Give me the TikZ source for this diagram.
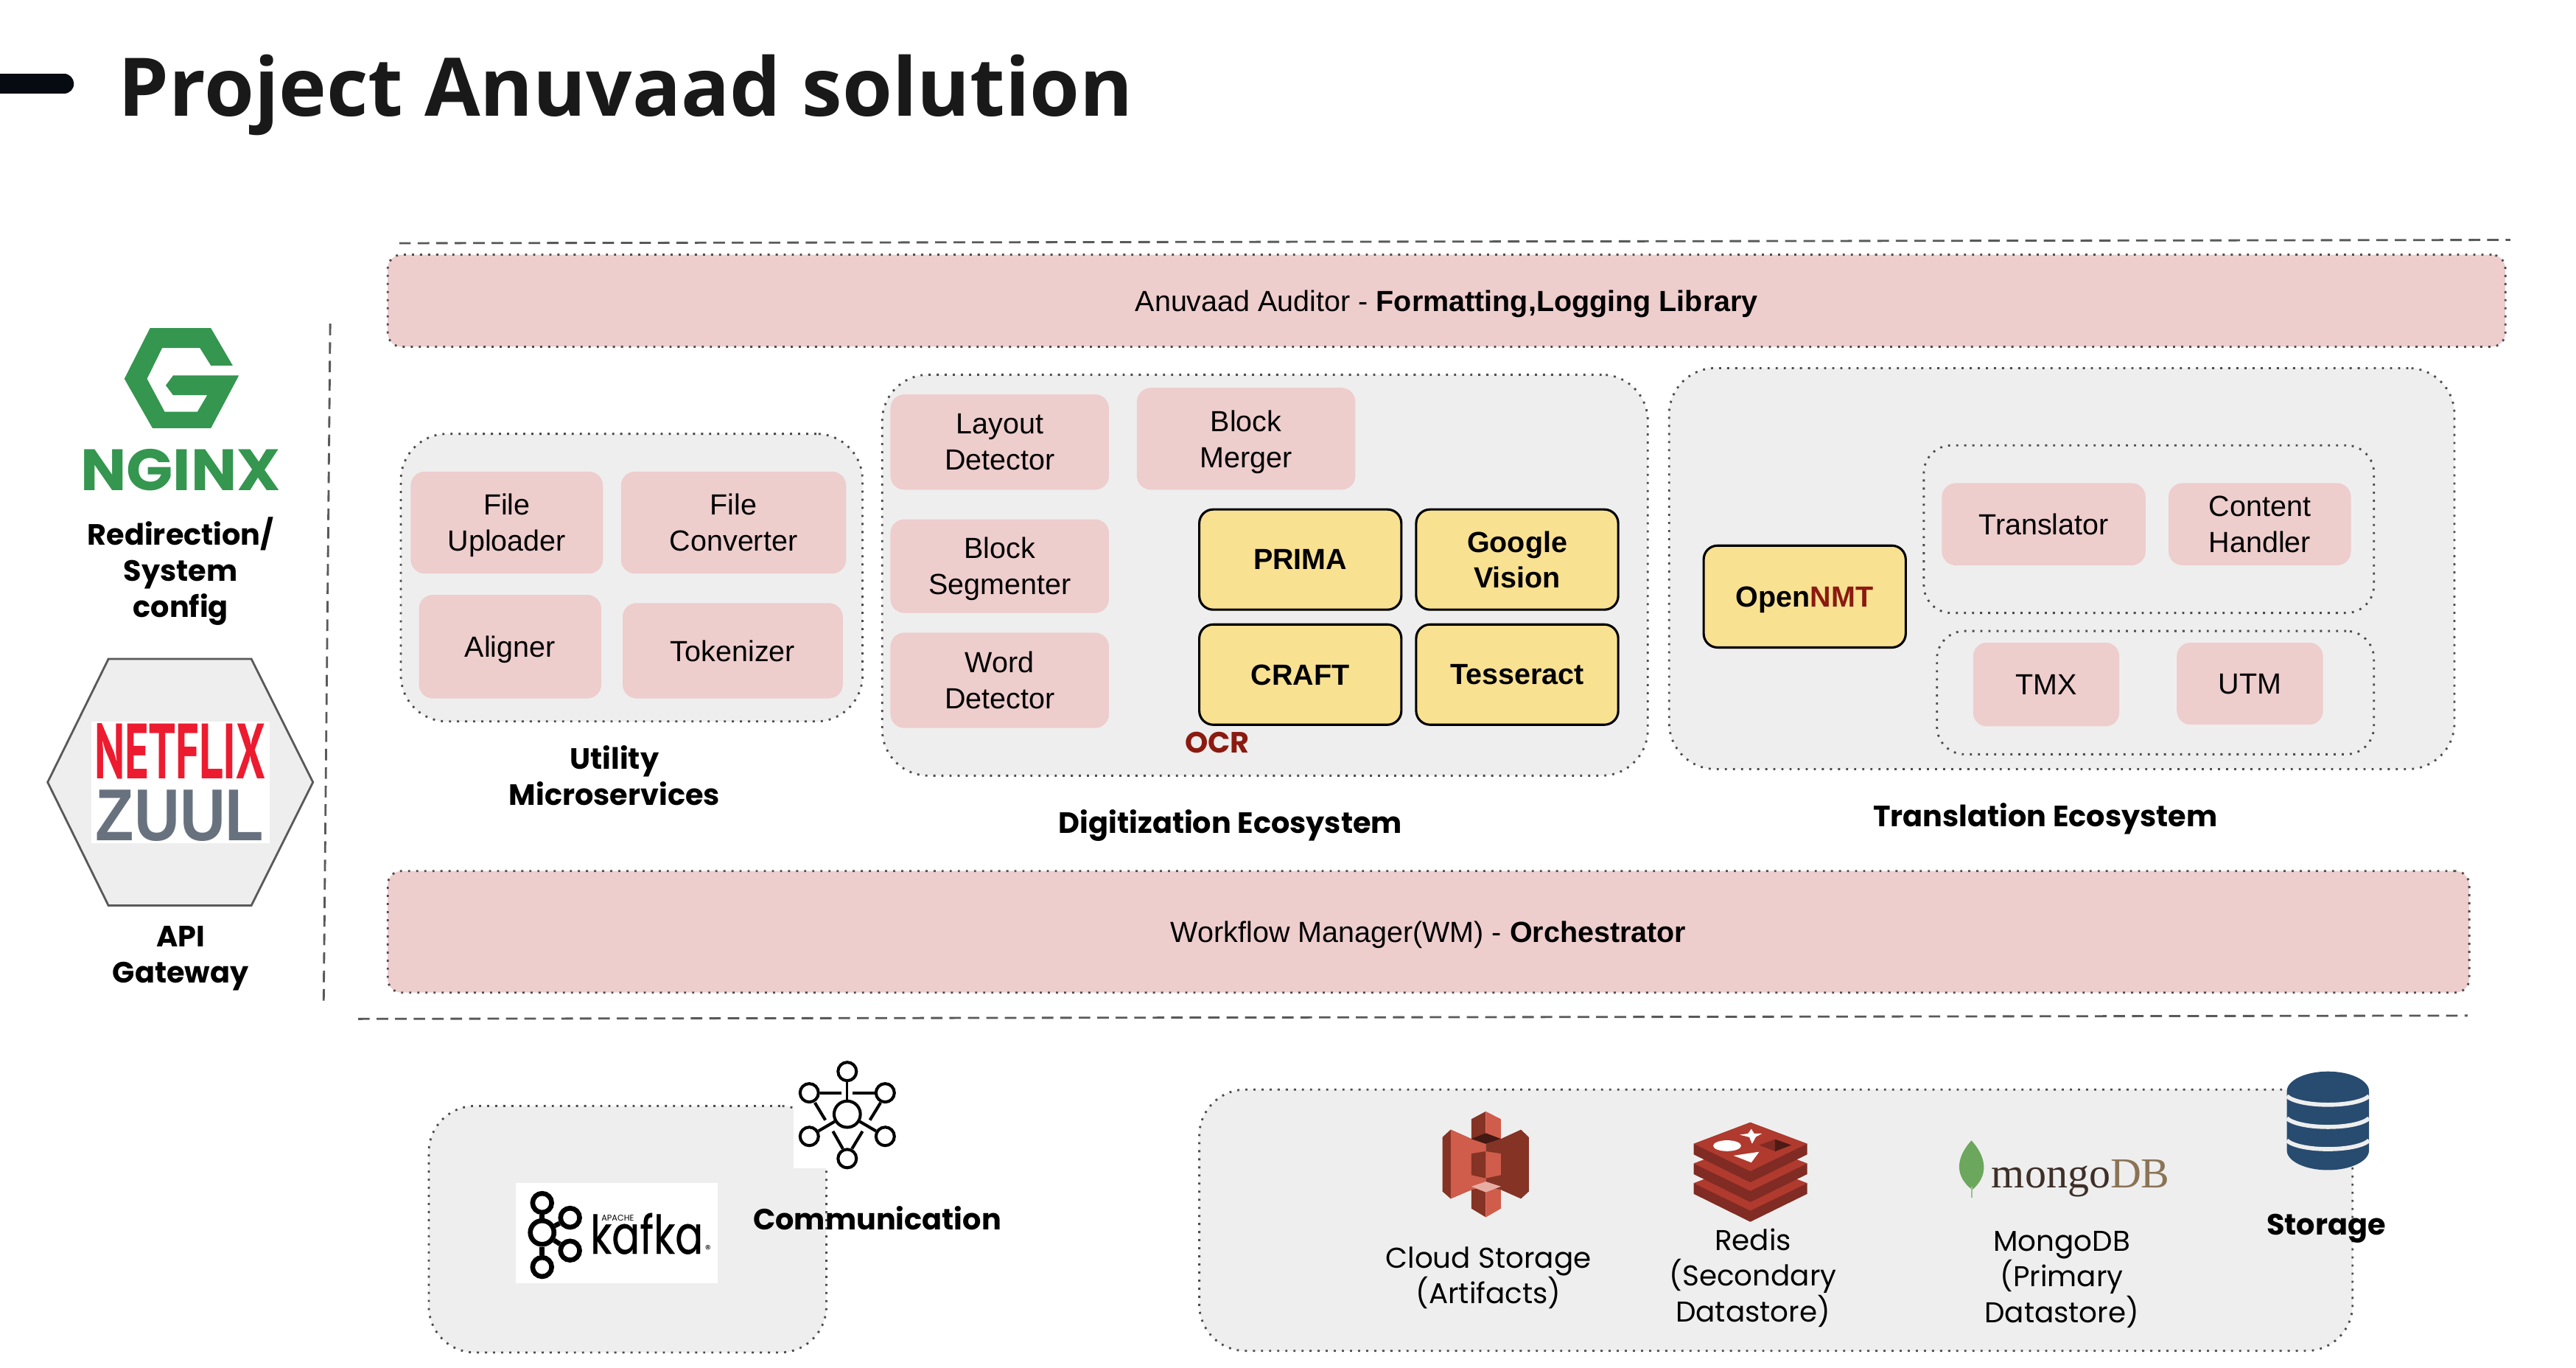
\documentclass[tikz,border=0pt]{standalone}
\usepackage{fontspec}
\setmainfont{Liberation Sans}
\newfontfamily\labelfamily{Poppins}
\newfontfamily\kafkafamily[FakeBold=0.5]{Poppins}
\newfontfamily\titlefamily{Open Sans}
\newfontfamily\mongofamily{Liberation Serif}
\newfontfamily\netflixfamily{PT Sans}
\usetikzlibrary{calc,shapes.geometric}
\definecolor{pinkfill}{HTML}{EECDCD}
\definecolor{greyfill}{HTML}{EEEEEE}
\definecolor{yellowfill}{HTML}{F9E192}
\definecolor{ocrred}{HTML}{8B1A10}
\definecolor{navy}{HTML}{284B70}
\definecolor{nginxgreen}{HTML}{34964F}
\definecolor{netflixred}{HTML}{ED1B2F}
\definecolor{zuulgrey}{HTML}{68727F}
\definecolor{awslight}{HTML}{D05C4B}
\definecolor{awsdark}{HTML}{843325}
\definecolor{redislight}{HTML}{B03A2E}
\definecolor{redisdark}{HTML}{802B23}
\definecolor{mongodark}{HTML}{3E2F28}
\definecolor{mongotan}{HTML}{8B7355}
\definecolor{leafgreen}{HTML}{6BA75C}
\def\unitbox[#1](#2)(#3,#4)(#5,#6)#7{\node[#1, minimum width={(#5-#3)*0.25mm}, minimum height={(#6-#4)*0.25mm}] (#2) at ({(#3+#5)/2},{(#4+#6)/2}) {#7};}
\tikzset{
	bodytext/.style={align=center, inner sep=0, text depth=0pt, font=\fontsize{12.6}{15.6}\selectfont},
	lighttext/.style={align=center, inner sep=0, text depth=0pt, font=\labelfamily\fontsize{12.4}{15.6}\selectfont},
	labeltext/.style={align=center, inner sep=0, text depth=0pt, font=\labelfamily\bfseries\fontsize{12.7}{15.6}\selectfont},
	dotline/.style={draw=black!70, line width=0.9pt, dash pattern=on 0.9pt off 2.6pt},
	dashline/.style={draw=black!65, line width=0.9pt, dash pattern=on 5pt off 3pt},
	pinkbox/.style={bodytext, fill=pinkfill, rounded corners=6pt},
	pinkband/.style={bodytext, fill=pinkfill, dotline, rounded corners=6pt},
	greybox/.style={fill=greyfill, dotline, rounded corners=20pt},
	yellowbox/.style={bodytext, fill=yellowfill, draw=black, line width=1pt, rounded corners=6pt, font=\bfseries\fontsize{12.6}{15.6}\selectfont},
	ring/.style={circle, draw=black, inner sep=0, fill=white},
}
\begin{document}
\begin{tikzpicture}[x=0.25mm, y=-0.25mm]
		\useasboundingbox (0, 0) rectangle (1568, 832);
		%%%%% TITLE %%%%%
		\draw[line width=8.5pt, line cap=round, color=black!85!navy] (-10, 51) -- (39, 51);
		\node[inner sep=0, font=\titlefamily\bfseries\fontsize{35}{40}\selectfont, color=black!90] (title) at (381, 58) {Project Anuvaad solution};
		
		%%%%% LEFT COLUMN %%%%%
		\draw[fill=nginxgreen, draw=none] (75.7, 230.5) -- (91.3, 199.7) -- (128.4, 199.7) -- (141.7, 222.5) -- (128.4, 222.5) -- (121.7, 211.8) -- (98.7, 211.8) -- (89.5, 230.5) -- (100.2, 250.5) -- (120.2, 250.5) -- (126.1, 240.5) -- (105.4, 240.5) -- (100.9, 234.5) -- (105.4, 228.5) -- (145.4, 228.5) -- (128.4, 260.5) -- (92.8, 260.5) -- cycle;
		\node[inner sep=0, color=nginxgreen] (nginx) at (110, 286) {\resizebox{30.5mm}{6.3mm}{\labelfamily\bfseries NGINX}};
		\node[labeltext] (redirection) at (110, 345) {Redirection/\\System\\config};
		
		\draw[fill=greyfill, draw=black!65, line width=0.9pt] (29, 476) -- (66, 401) -- (153, 401) -- (190.5, 476) -- (153, 551) -- (66, 551) -- cycle;
		\draw[fill=white, draw=none] (55.7, 439) rectangle (164, 513);
		\node[inner sep=0, color=netflixred] (netflix) at (109.5, 457) {\resizebox{26mm}{8.4mm}{\netflixfamily\bfseries NETFLIX}};
		\node[inner sep=0, color=zuulgrey] (zuul) at (109.5, 496.5) {\resizebox{25.6mm}{7.7mm}{\bfseries ZUUL}};
		\node[labeltext] (gateway) at (110, 581) {API\\Gateway};
		
		\draw[dashline] (201, 197) -- (197, 612);
		
		%%%%% TOP AND MIDDLE BANDS %%%%%
		\draw[dashline] (243, 148) -- (1528, 146);
		\unitbox[pinkband](auditor)(236,155)(1525,211){Anuvaad Auditor - \textbf{Formatting,Logging Library}}
		\unitbox[pinkband](workflow)(236,530)(1503,604){Workflow Manager(WM) - \textbf{Orchestrator}}
		\draw[dashline] (218, 620) -- (1502, 618);
		
		%%%%% UTILITY %%%%%
		\unitbox[greybox](utility)(244,264)(525,439){}
		\unitbox[pinkbox](uploader)(250,287)(367,349){File\\Uploader}
		\unitbox[pinkbox](converter)(378,287)(515,349){File\\Converter}
		\unitbox[pinkbox](aligner)(255,362)(366,425){Aligner}
		\unitbox[pinkbox](tokenizer)(379,367)(513,425){Tokenizer}
		\node[labeltext] (utilitylabel) at (374, 472) {Utility\\Microservices};
		
		%%%%% DIGITIZATION %%%%%
		\unitbox[greybox](digitization)(537,228)(1003,472){}
		\unitbox[pinkbox](layout)(542,240)(675,298){Layout\\Detector}
		\unitbox[pinkbox](merger)(692,236)(825,298){Block\\Merger}
		\unitbox[pinkbox](segmenter)(542,316)(675,373){Block\\Segmenter}
		\unitbox[pinkbox](word)(542,385)(675,443){Word\\Detector}
		\unitbox[yellowbox](prima)(730,310)(853,371){PRIMA}
		\unitbox[yellowbox](google)(862,310)(985,371){Google\\Vision}
		\unitbox[yellowbox](craft)(730,380)(853,441){CRAFT}
		\unitbox[yellowbox](tesseract)(862,380)(985,441){Tesseract}
		\node[labeltext, color=ocrred] (ocr) at (741, 452) {OCR};
		\node[labeltext] (digitlabel) at (749, 500) {Digitization Ecosystem};
		
		%%%%% TRANSLATION %%%%%
		\unitbox[greybox](translation)(1016,224)(1494,468){}
		\unitbox[yellowbox](opennmt)(1037,332)(1160,394){Open\textcolor{ocrred}{NMT}}
		\unitbox[greybox, rounded corners=12pt](translatorgroup)(1171,271)(1445,373){}
		\unitbox[pinkbox](translator)(1182,294)(1306,344){Translator}
		\unitbox[pinkbox](handler)(1320,294)(1431,344){Content\\Handler}
		\unitbox[greybox, rounded corners=12pt](memorygroup)(1179,384)(1445,459){}
		\unitbox[pinkbox](tmx)(1201,391)(1290,442){TMX}
		\unitbox[pinkbox](utm)(1325,391)(1414,441){UTM}
		\node[labeltext] (translabel) at (1245, 496) {Translation Ecosystem};
		
		%%%%% KAFKA %%%%%
		\unitbox[greybox](commbox)(261,673)(503,823){}
		\draw[fill=white, draw=none] (314, 720) rectangle (437, 781);
		\node[ring, minimum size=2.9mm, line width=2.1pt] (kafkatop) at (330, 732) {};
		\node[ring, minimum size=3.6mm, line width=2.1pt] (kafkamid) at (330, 750) {};
		\node[ring, minimum size=2.9mm, line width=2.1pt] (kafkabottom) at (330, 771) {};
		\node[ring, minimum size=2.9mm, line width=2.1pt] (kafkaup) at (347, 741) {};
		\node[ring, minimum size=2.9mm, line width=2.1pt] (kafkadown) at (347, 761) {};
		\draw[line width=2.1pt] (kafkatop) -- (kafkamid);
		\draw[line width=2.1pt] (kafkamid) -- (kafkabottom);
		\draw[line width=2.1pt] (kafkamid) -- (kafkaup);
		\draw[line width=2.1pt] (kafkamid) -- (kafkadown);
		\node[inner sep=0, anchor=south west] (kafka) at (359, 763.5) {\resizebox{17.2mm}{6.2mm}{\kafkafamily kafka}};
		\node[inner sep=0, font=\labelfamily\fontsize{3.6}{4}\selectfont] (apache) at (376, 741) {APACHE};
		\node[inner sep=0, font=\labelfamily\fontsize{5}{5}\selectfont] (registered) at (431, 760) {®};
		
		\draw[fill=white, draw=none] (483, 645) rectangle (545, 711);
		\node[ring, minimum size=4mm, line width=1.3pt] (netcentre) at (515.7, 678) {};
		\node[ring, minimum size=2.8mm, line width=1.3pt] (nettop) at (515.7, 652) {};
		\node[ring, minimum size=2.8mm, line width=1.3pt] (netlup) at (492.6, 665) {};
		\node[ring, minimum size=2.8mm, line width=1.3pt] (netrup) at (538.8, 665) {};
		\node[ring, minimum size=2.8mm, line width=1.3pt] (netldown) at (492.6, 691.5) {};
		\node[ring, minimum size=2.8mm, line width=1.3pt] (netrdown) at (538.8, 691.5) {};
		\node[ring, minimum size=2.8mm, line width=1.3pt] (netbottom) at (515.7, 705) {};
		\draw[line width=1pt] (nettop) -- (netcentre);
		\draw[line width=1.3pt] (netcentre) -- (netldown);
		\draw[line width=1.3pt] (netcentre) -- (netrdown);
		\draw[line width=1.3pt] (499, 665) -- (512, 665);
		\draw[line width=1.3pt] (519, 665) -- (533, 665);
		\draw[line width=1.3pt] (496, 671) -- (502.4, 681.6);
		\draw[line width=1.3pt] (536, 671) -- (529.5, 681.6);
		\draw[line width=1.3pt] (507, 688.4) -- (513, 699);
		\draw[line width=1.3pt] (525, 688.4) -- (518.6, 699);
		\node[labeltext] (commlabel) at (534, 741) {Communication};
		
		%%%%% STORAGE %%%%%
		\unitbox[greybox](storagebox)(730,663)(1432,822){}
		
		% cloud storage icon
		\draw[fill=awsdark, draw=none] (878, 692) -- (883, 687.4) -- (895.6, 693) -- (895.6, 724) -- (883, 729.4) -- (878, 725) -- cycle;
		\draw[fill=awslight, draw=none] (883, 687.4) -- (895.6, 693) -- (904.4, 693) -- (904.4, 724) -- (895.6, 724) -- (883, 729.4) -- cycle;
		\draw[fill=awsdark, draw=none] (904.4, 693) -- (913.6, 693) -- (925.8, 687.4) -- (930.6, 692) -- (930.6, 725) -- (925.8, 729.4) -- (913.6, 724) -- (904.4, 724) -- cycle;
		\draw[fill=awsdark, draw=none] (904.4, 676.3) -- (895.6, 681) -- (895.6, 693) -- (904.4, 696) -- cycle;
		\draw[fill=awslight, draw=none] (904.4, 676.3) -- (913.6, 681) -- (913.6, 693) -- (904.4, 696) -- cycle;
		\draw[fill=black!50!awsdark, draw=none] (895.6, 693) -- (904.4, 689.5) -- (913.6, 693) -- (904.4, 696) -- cycle;
		\draw[fill=awsdark, draw=none] (904.4, 700.6) -- (895.6, 702) -- (895.6, 715) -- (904.4, 717) -- cycle;
		\draw[fill=awslight, draw=none] (904.4, 700.6) -- (913.6, 702) -- (913.6, 715) -- (904.4, 717) -- cycle;
		\draw[fill=awsdark, draw=none] (895.6, 724) -- (904.4, 722) -- (904.4, 740.7) -- (895.6, 735.4) -- cycle;
		\draw[fill=awslight, draw=none] (913.6, 724) -- (904.4, 722) -- (904.4, 740.7) -- (913.6, 735.4) -- cycle;
		\draw[fill=awslight!50!white, draw=none] (895.6, 722) -- (904.4, 719) -- (913.6, 722) -- (904.4, 725.5) -- cycle;
		\node[lighttext] (cloudlabel) at (906, 776) {Cloud Storage\\(Artifacts)};
		
		% redis icon
		\foreach \lift in {24, 12, 0}{
			\draw[fill=redisdark, draw=none] (1031, 696+\lift) -- (1065.4, 683+\lift) -- (1100, 696+\lift) -- (1100, 702.5+\lift) -- (1065.4, 719.5+\lift) -- (1031, 702.5+\lift) -- cycle;
			\draw[fill=redislight, draw=none] (1031, 696+\lift) -- (1065.4, 683+\lift) -- (1100, 696+\lift) -- (1065.4, 712.7+\lift) -- cycle;
		}
		\draw[fill=white, draw=none] (1066, 687) -- (1067.8, 689.8) -- (1072.5, 689.8) -- (1068.8, 691.8) -- (1066.5, 696) -- (1064.8, 692) -- (1059, 690.5) -- (1064, 689.8) -- cycle;
		\draw[fill=white, draw=none] (1051.3, 697.2) ellipse (8.5 and 3.3);
		\draw[fill=white, draw=none] (1070.8, 700.9) -- (1055.2, 703.2) -- (1066, 707.4) -- cycle;
		\draw[fill=redisdark, draw=none] (1080.5, 693.3) -- (1090.3, 696.8) -- (1080.5, 700.6) -- (1070.8, 696.8) -- cycle;
		\draw[fill=black!40!redisdark, draw=none] (1080.5, 693.3) -- (1090.3, 696.8) -- (1080.5, 700.6) -- cycle;
		\node[lighttext] (redislabel) at (1067, 776) {Redis\\(Secondary\\Datastore)};
		
		% mongodb icon
		\draw[fill=leafgreen, draw=none] (1200, 694) .. controls (1210, 705) and (1210, 716) .. (1200.5, 724) .. controls (1190, 716) and (1190, 705) .. (1200, 694) -- cycle;
		\draw[line width=0.5pt, color=leafgreen!70] (1200.3, 722) -- (1200.3, 729);
		\node[inner sep=0, anchor=base west, font=\mongofamily\fontsize{18.5}{18.5}\selectfont, color=mongodark] (mongo) at (1212, 723) {mongo\textcolor{mongotan}{DB}};
		\node[lighttext] (mongolabel) at (1255, 777) {MongoDB\\(Primary\\Datastore)};
		
		% storage icon
		\draw[fill=navy, draw=none] (1392, 664) arc (180:360:25 and 12) -- (1442, 700) arc (0:180:25 and 12) -- cycle;
		\draw[line width=1.8pt, color=greyfill] (1392, 667) .. controls (1400, 674) and (1434, 674) .. (1442, 667);
		\draw[line width=1.8pt, color=greyfill] (1392, 680.5) .. controls (1400, 687.5) and (1434, 687.5) .. (1442, 680.5);
		\draw[line width=1.8pt, color=greyfill] (1392, 694) .. controls (1400, 701) and (1434, 701) .. (1442, 694);
		\node[labeltext] (storagelabel) at (1416, 745) {Storage};
	\end{tikzpicture}
\end{document}
